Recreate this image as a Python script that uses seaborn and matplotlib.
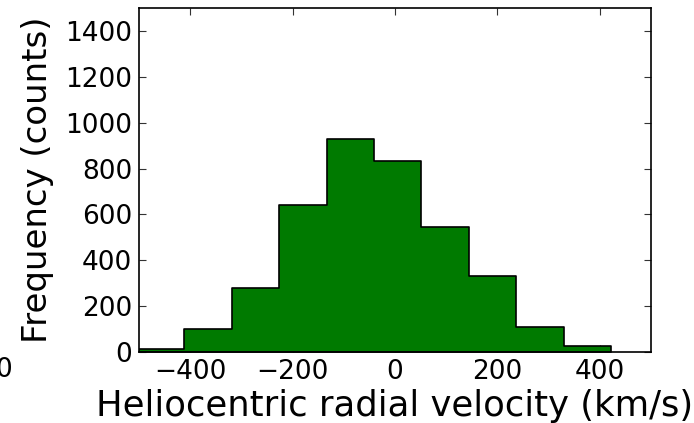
import matplotlib
matplotlib.use("Agg")
import matplotlib.pyplot as plt
import seaborn as sns
import numpy as np
import pandas as pd

# Data
bin_low = -504
bin_high = 422
counts = [15, 100, 278, 639, 930, 835, 543, 330, 109, 26]
x_ticks = [-400, -200, 0, 200, 400]
y_ticks = [0, 200, 400, 600, 800, 1000, 1200, 1400]

n_bins = len(counts)
width = (bin_high - bin_low) / n_bins
centers = [bin_low + width * (i + 0.5) for i in range(n_bins)]
df = pd.DataFrame({"velocity": centers, "count": counts})

sns.set_style("ticks")
plt.rcParams["font.family"] = ["DejaVu Sans"]
plt.rcParams["xtick.direction"] = "in"
plt.rcParams["ytick.direction"] = "in"
plt.rcParams["text.color"] = "black"
plt.rcParams["axes.labelcolor"] = "black"
plt.rcParams["xtick.labelcolor"] = "black"
plt.rcParams["ytick.labelcolor"] = "black"

fig = plt.figure(figsize=(6.94, 4.23), dpi=100)
ax = fig.add_axes([139 / 694, 1 - 352 / 423, 512 / 694, 344 / 423])

sns.histplot(data=df, x="velocity", weights="count", bins=n_bins,
             binrange=(bin_low, bin_high), element="step", fill=True,
             color="#007a00", alpha=1, edgecolor="black", linewidth=1.2, ax=ax)

ax.set_xlim(-500, 500)
ax.set_ylim(0, 1500)
ax.set_xticks(x_ticks)
ax.set_xticklabels(["\u2212400", "\u2212200", "0", "200", "400"])
ax.set_yticks(y_ticks)
ax.tick_params(axis="both", which="major", labelsize=19, length=5, width=0.8,
               color="#333333", top=True, right=True, pad=5)
for s in ax.spines.values():
    s.set_linewidth(1.2)
    s.set_color("black")
ax.set_xlabel("Heliocentric radial velocity (km/s)", fontsize=25.5, labelpad=3)
ax.set_ylabel("Frequency (counts)", fontsize=24.5, labelpad=8)

fig.text(12 / 694, 1 - 370 / 423, "0", fontsize=19, ha="right", va="center")

fig.savefig("out.png", dpi=100)
